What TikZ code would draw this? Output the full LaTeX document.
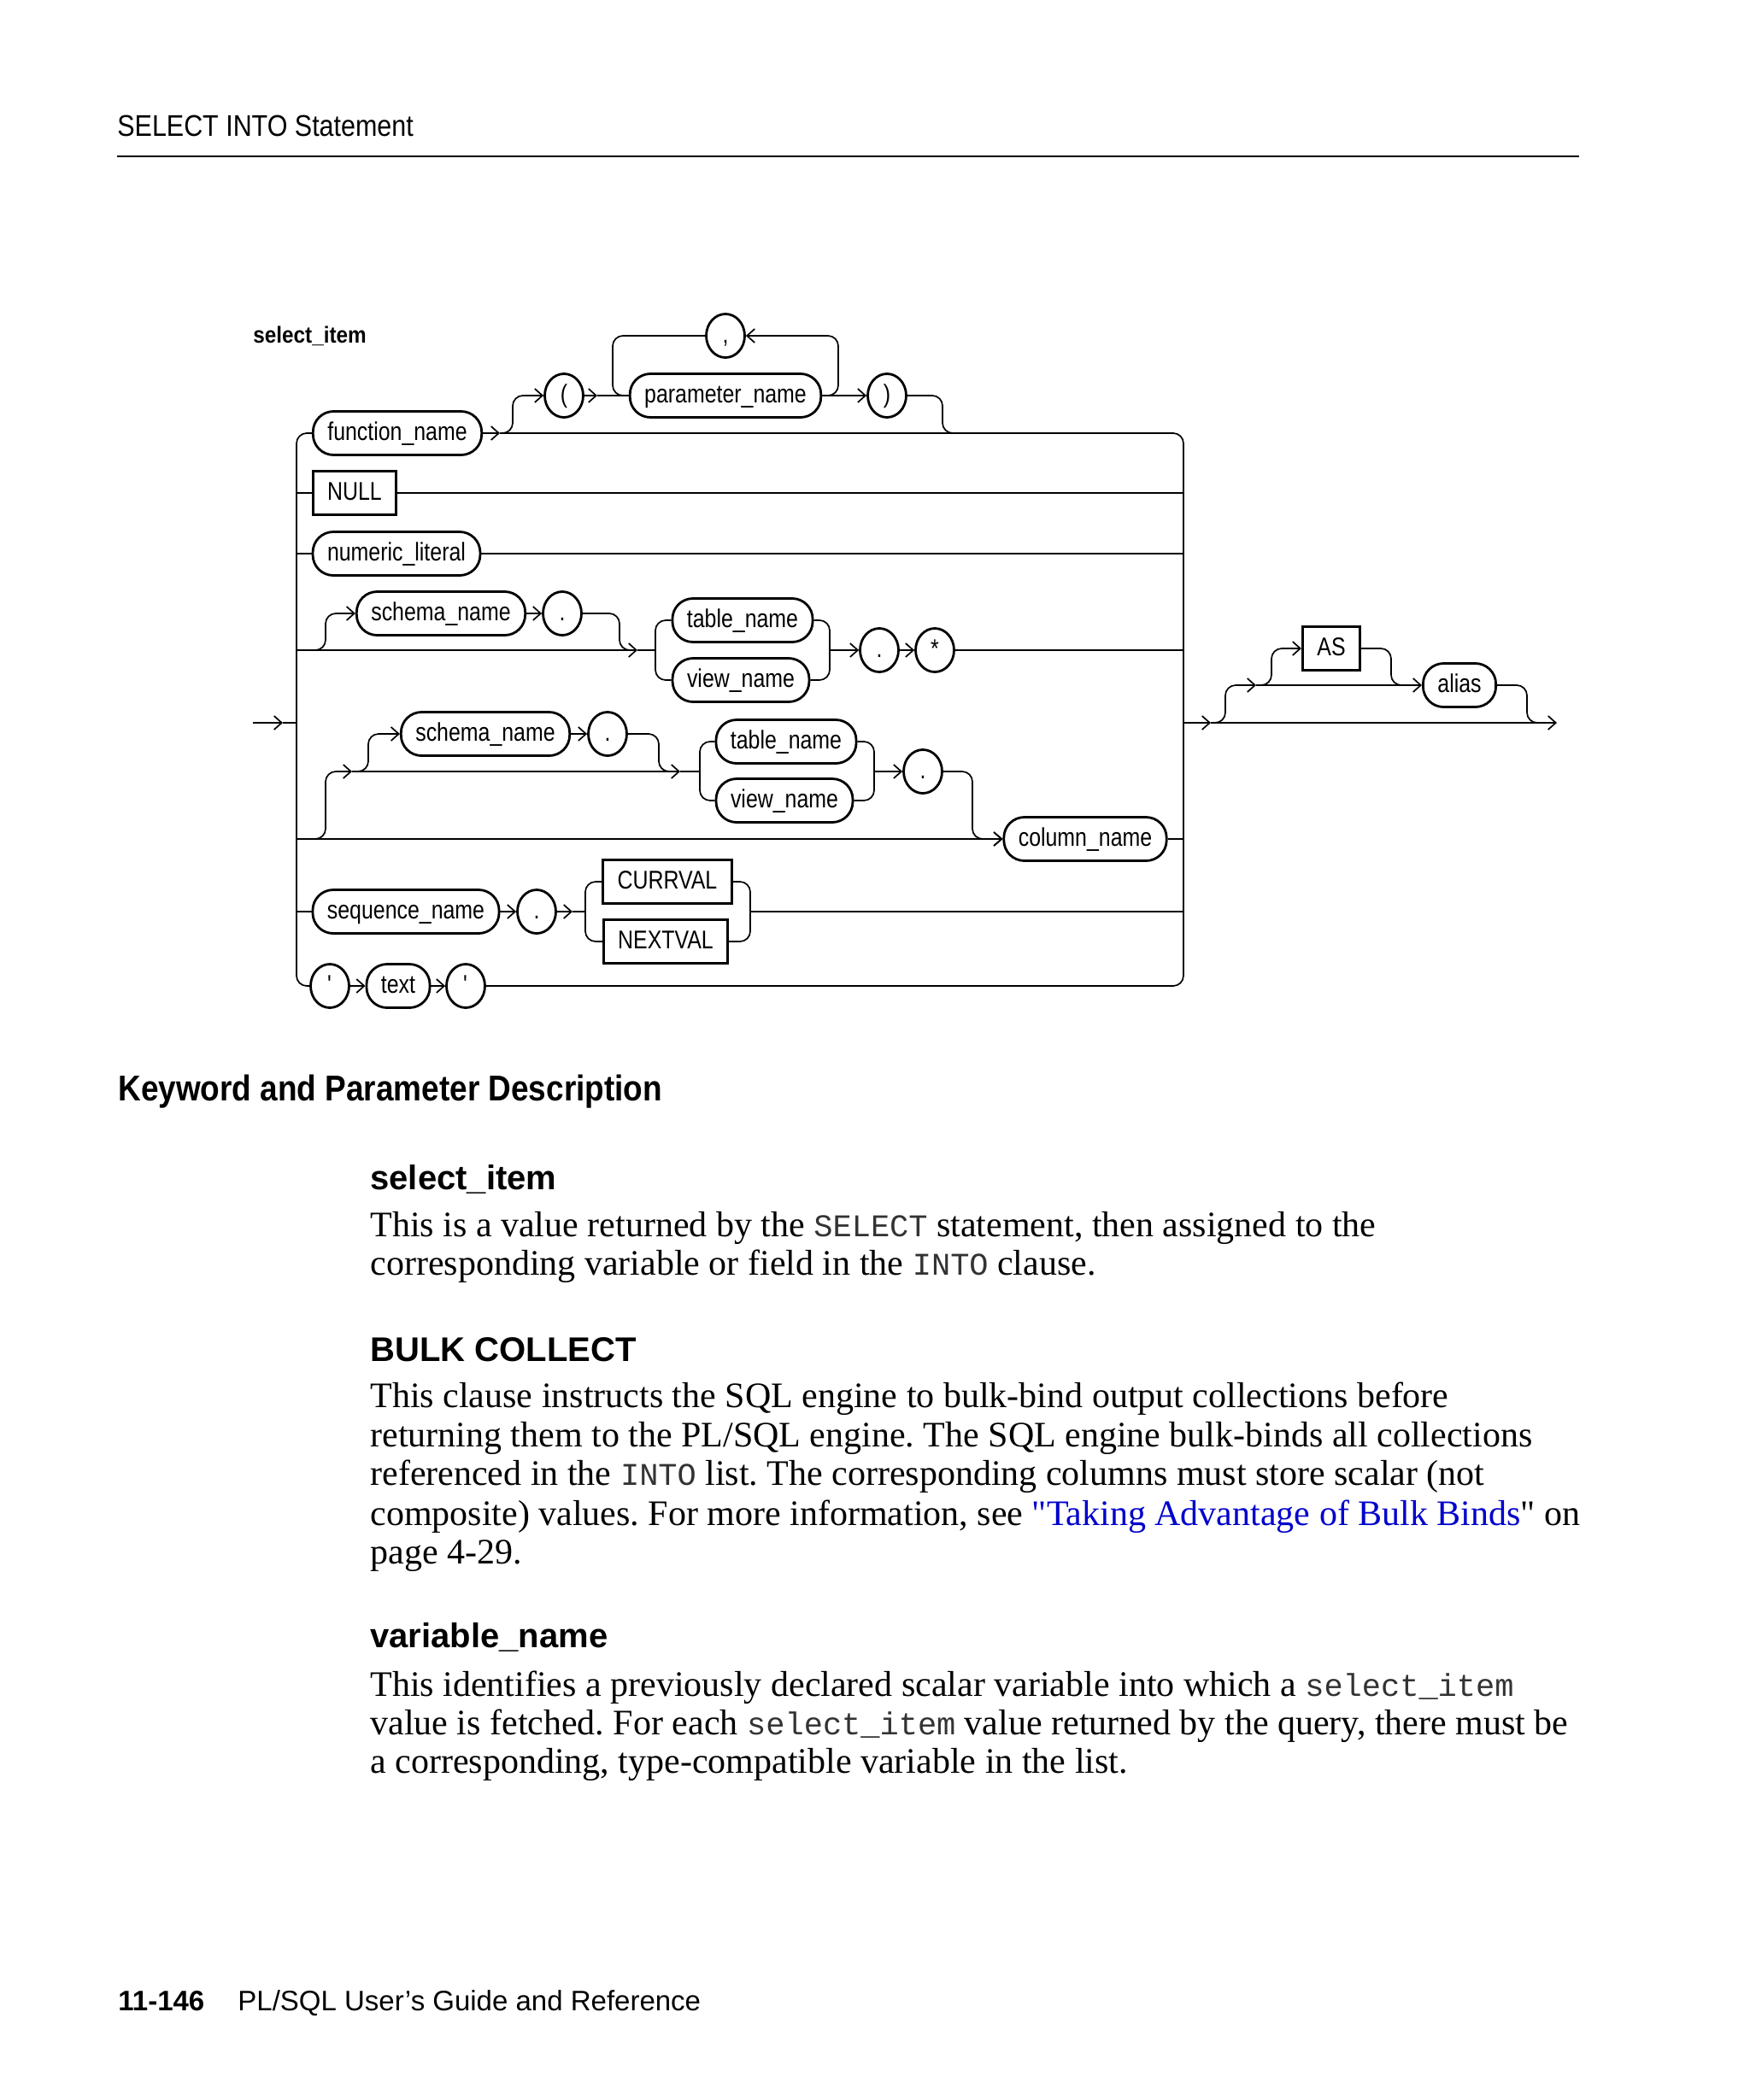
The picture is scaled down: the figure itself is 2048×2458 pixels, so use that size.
\documentclass[tikz,border=0pt]{standalone}
\usepackage{fontspec}
\setmainfont{Liberation Serif}
\setmonofont{Liberation Mono}
\newfontfamily\railfont{Liberation Sans}[FakeStretch=0.83]
\newfontfamily\labelfont{Liberation Sans}[FakeStretch=0.9]
\newfontfamily\headfont{Liberation Sans}[FakeStretch=0.87]
\newfontfamily\kwfont{Liberation Sans}[FakeStretch=0.88]
\newfontfamily\plainsans{Liberation Sans}
\usetikzlibrary{arrows.meta,positioning,shapes.geometric}
\usepackage{xcolor}
\definecolor{linkblue}{HTML}{0000CC}
\definecolor{codegray}{HTML}{333333}
\frenchspacing

\newcommand\railtext{\railfont\fontsize{15}{18}\selectfont}
\newcommand\bodytext{\rmfamily\fontsize{21}{22.5}\selectfont}
\newcommand\sqlcode[1]{{\ttfamily\fontsize{18.5}{22.5}\selectfont\color{codegray}#1}}

\tikzset{
    rail/.style={line width=0.85pt, rounded corners=6pt},
    railto/.style={rail, -{Straight Barb[length=4.5pt,width=8pt]}},
    txtline/.style={anchor=base west, inner sep=0pt}
}

\begin{document}
\begin{tikzpicture}[x=0.5pt, y=-0.5pt,
    nterm/.style={
        rectangle,
        rounded corners=12pt,
        draw,
        line width=1.4pt,
        minimum height=25.5pt,
        inner xsep=8.5pt,
        inner ysep=0pt,
        text height=11pt,
        text depth=3pt,
        font=\railtext
    },
    kword/.style={
        rectangle,
        draw,
        line width=1.4pt,
        minimum height=25.5pt,
        inner xsep=8.5pt,
        inner ysep=0pt,
        text height=11pt,
        text depth=3pt,
        font=\railtext
    },
    sym/.style={
        ellipse,
        draw,
        line width=1.4pt,
        minimum width=22.5pt,
        minimum height=25.5pt,
        inner sep=0pt,
        text height=11pt,
        text depth=3pt,
        font=\railtext
    }]

    \fill[white] (0,0) rectangle (2048,2458);
    \useasboundingbox (0,0) rectangle (2048,2458);

    %page head
    \node (page_head) [txtline, font=\headfont\fontsize{17.5}{20}\selectfont] at (137,159)
    {
        SELECT INTO Statement
    };
    \coordinate (rule_l) at (137,183);
    \coordinate (rule_r) at (1848,183);
    \draw[line width=1pt] (rule_l) -- (rule_r);

    %syntax diagram
    \node (diagram_title) [txtline, font=\labelfont\bfseries\fontsize{13.5}{16}\selectfont] at (296,401)
    {
        select\_item
    };

    \node (function_name) [nterm] at (465,507) {function\_name};
    \node (lparen) [sym] at (660,463) {(};
    \node (parameter_name) [nterm] at (849,463) {parameter\_name};
    \node (comma) [sym] at (849,393) {,};
    \node (rparen) [sym] at (1038,463) {)};

    \node (null_kw) [kword] at (415,577) {NULL};
    \node (numeric_literal) [nterm] at (464,648) {numeric\_literal};

    \node (schema_name_a) [nterm] at (516,718) {schema\_name};
    \node (dot_a) [sym] at (658,718) {.};
    \node (table_name_a) [nterm] at (869,726) {table\_name};
    \node (view_name_a) [nterm] at (867,796) {view\_name};
    \node (dot_b) [sym] at (1029,761) {.};
    \node (star) [sym] at (1094,761) {*};

    \node (schema_name_b) [nterm] at (568,859) {schema\_name};
    \node (dot_c) [sym] at (711,859) {.};
    \node (table_name_b) [nterm] at (920,868) {table\_name};
    \node (view_name_b) [nterm] at (918,937) {view\_name};
    \node (dot_d) [sym] at (1080,903) {.};
    \node (column_name) [nterm] at (1270,982) {column\_name};

    \node (sequence_name) [nterm] at (475,1067) {sequence\_name};
    \node (dot_e) [sym] at (628,1067) {.};
    \node (currval_kw) [kword] at (781,1032) {CURRVAL};
    \node (nextval_kw) [kword] at (779,1102) {NEXTVAL};

    \node (quote_a) [sym] at (386,1154) {\textquotesingle};
    \node (text_lit) [nterm] at (466,1154) {text};
    \node (quote_b) [sym] at (545,1154) {\textquotesingle};

    \node (as_kw) [kword] at (1558,759) {AS};
    \node (alias) [nterm] at (1708,802) {alias};

    %rail joints
    \coordinate (entry) at (296,846);
    \coordinate (entry_tip) at (331,846);
    \coordinate (left_in) at (347,846);
    \coordinate (fn_out) at (585,507);
    \coordinate (lparen_out) at (699,463);
    \coordinate (call_end) at (1118,507);
    \coordinate (left_2) at (347,577);
    \coordinate (right_2) at (1385,577);
    \coordinate (left_3) at (347,648);
    \coordinate (right_3) at (1385,648);
    \coordinate (left_4) at (347,761);
    \coordinate (fork_4) at (368,761);
    \coordinate (merge_4) at (738,761);
    \coordinate (tip_4) at (746,761);
    \coordinate (split_4) at (767,761);
    \coordinate (join_4) at (971,761);
    \coordinate (right_4) at (1385,761);
    \coordinate (left_6) at (347,982);
    \coordinate (fork_6) at (368,982);
    \coordinate (right_6) at (1385,982);
    \coordinate (tip_5) at (412,903);
    \coordinate (fork_5) at (418,903);
    \coordinate (merge_5) at (784,903);
    \coordinate (tip_5b) at (796,903);
    \coordinate (split_5) at (819,903);
    \coordinate (join_5) at (1023,903);
    \coordinate (left_7) at (347,1067);
    \coordinate (tip_7) at (670,1067);
    \coordinate (split_7) at (685,1067);
    \coordinate (join_7) at (878,1067);
    \coordinate (right_7) at (1385,1067);
    \coordinate (right_out) at (1385,846);
    \coordinate (exit_tip) at (1417,846);
    \coordinate (exit_fork) at (1420,846);
    \coordinate (alias_tip) at (1470,802);
    \coordinate (as_fork) at (1478,802);
    \coordinate (as_merge) at (1642,802);
    \coordinate (alias_merge) at (1800,846);
    \coordinate (exit) at (1822,846);

    %outer rails
    \draw[railto] (entry) -- (entry_tip);
    \draw[rail] (entry_tip) -- (left_in);
    \draw[rail] (function_name.west) -- (347,507) -- (347,1154) -- (quote_a.west);
    \draw[railto] (function_name.east) -- (fn_out);
    \draw[rail] (fn_out) -- (1385,507) -- (1385,1154) -- (quote_b.east);

    %function call
    \draw[railto] (fn_out) -- (600,507) -- (600,463) -- (lparen.west);
    \draw[railto] (lparen.east) -- (lparen_out);
    \draw[rail] (lparen_out) -- (parameter_name.west);
    \draw[railto] (parameter_name.east) -- (rparen.west);
    \draw[railto] (parameter_name.east) -- (981,463) -- (981,393) -- (comma.east);
    \draw[rail] (comma.west) -- (717,393) -- (717,463) -- (parameter_name.west);
    \draw[rail] (rparen.east) -- (1103,463) -- (1103,507) -- (call_end);

    \draw[rail] (left_2) -- (null_kw.west);
    \draw[rail] (null_kw.east) -- (right_2);
    \draw[rail] (left_3) -- (numeric_literal.west);
    \draw[rail] (numeric_literal.east) -- (right_3);

    %schema.table.*
    \draw[railto] (left_4) -- (tip_4);
    \draw[rail] (tip_4) -- (split_4);
    \draw[railto] (fork_4) -- (381,761) -- (381,718) -- (schema_name_a.west);
    \draw[railto] (schema_name_a.east) -- (dot_a.west);
    \draw[rail] (dot_a.east) -- (725,718) -- (725,761) -- (merge_4);
    \draw[rail] (table_name_a.west) -- (767,726) -- (767,796) -- (view_name_a.west);
    \draw[rail] (table_name_a.east) -- (971,726) -- (971,796) -- (view_name_a.east);
    \draw[railto] (join_4) -- (dot_b.west);
    \draw[railto] (dot_b.east) -- (star.west);
    \draw[rail] (star.east) -- (right_4);

    %schema.table.column
    \draw[railto] (left_6) -- (column_name.west);
    \draw[rail] (column_name.east) -- (right_6);
    \draw[railto] (fork_6) -- (381,982) -- (381,903) -- (tip_5);
    \draw[railto] (tip_5) -- (tip_5b);
    \draw[rail] (tip_5b) -- (split_5);
    \draw[railto] (fork_5) -- (431,903) -- (431,859) -- (schema_name_b.west);
    \draw[railto] (schema_name_b.east) -- (dot_c.west);
    \draw[rail] (dot_c.east) -- (771,859) -- (771,903) -- (merge_5);
    \draw[rail] (table_name_b.west) -- (819,868) -- (819,937) -- (view_name_b.west);
    \draw[rail] (table_name_b.east) -- (1023,868) -- (1023,937) -- (view_name_b.east);
    \draw[railto] (join_5) -- (dot_d.west);
    \draw[railto] (dot_d.east) -- (1138,903) -- (1138,982) -- (column_name.west);

    %sequence
    \draw[rail] (left_7) -- (sequence_name.west);
    \draw[railto] (sequence_name.east) -- (dot_e.west);
    \draw[railto] (dot_e.east) -- (tip_7);
    \draw[rail] (tip_7) -- (split_7);
    \draw[rail] (currval_kw.west) -- (685,1032) -- (685,1102) -- (nextval_kw.west);
    \draw[rail] (currval_kw.east) -- (878,1032) -- (878,1102) -- (nextval_kw.east);
    \draw[rail] (join_7) -- (right_7);

    \draw[railto] (quote_a.east) -- (text_lit.west);
    \draw[railto] (text_lit.east) -- (quote_b.west);

    %alias
    \draw[railto] (right_out) -- (exit_tip);
    \draw[railto] (exit_tip) -- (exit);
    \draw[railto] (exit_fork) -- (1434,846) -- (1434,802) -- (alias_tip);
    \draw[railto] (alias_tip) -- (alias.west);
    \draw[railto] (as_fork) -- (1488,802) -- (1488,759) -- (as_kw.west);
    \draw[rail] (as_kw.east) -- (1628,759) -- (1628,802) -- (as_merge);
    \draw[rail] (alias.east) -- (1787,802) -- (1787,846) -- (alias_merge);

    %descriptions
    \node (kw_head) [txtline, font=\kwfont\bfseries\fontsize{21}{24}\selectfont] at (138,1288)
    {
        Keyword and Parameter Description
    };

    \node (select_item_head) [txtline, font=\plainsans\bfseries\fontsize{20}{24}\selectfont] at (433,1392)
    {
        select\_item
    };
    \node (select_item_a) [txtline, font=\bodytext] at (433,1447)
    {This is a value returned by the \sqlcode{SELECT} statement, then assigned to the};
    \node (select_item_b) [txtline, font=\bodytext] at (433,1492)
    {corresponding variable or field in the \sqlcode{INTO} clause.};

    \node (bulk_head) [txtline, font=\plainsans\bfseries\fontsize{20}{24}\selectfont] at (433,1593)
    {
        BULK COLLECT
    };
    \node (bulk_a) [txtline, font=\bodytext] at (433,1647)
    {This clause instructs the SQL engine to bulk-bind output collections before};
    \node (bulk_b) [txtline, font=\bodytext] at (433,1693)
    {returning them to the PL/SQL engine. The SQL engine bulk-binds all collections};
    \node (bulk_c) [txtline, font=\bodytext] at (433,1738)
    {referenced in the \sqlcode{INTO} list. The corresponding columns must store scalar (not};
    \node (bulk_d) [txtline, font=\bodytext] at (433,1785)
    {composite) values. For more information, see {\color{linkblue}\textquotedbl Taking Advantage of Bulk Binds}\textquotedbl{} on};
    \node (bulk_e) [txtline, font=\bodytext] at (433,1830)
    {page 4-29.};

    \node (variable_name_head) [txtline, font=\plainsans\bfseries\fontsize{20}{24}\selectfont] at (433,1928)
    {
        variable\_name
    };
    \node (variable_name_a) [txtline, font=\bodytext] at (433,1985)
    {This identifies a previously declared scalar variable into which a \sqlcode{select\_item}};
    \node (variable_name_b) [txtline, font=\bodytext] at (433,2030)
    {value is fetched. For each \sqlcode{select\_item} value returned by the query, there must be};
    \node (variable_name_c) [txtline, font=\bodytext] at (433,2075)
    {a corresponding, type-compatible variable in the list.};

    %page foot
    \node (foot_page) [txtline, font=\plainsans\bfseries\fontsize{16.5}{19}\selectfont] at (138,2353)
    {
        11-146
    };
    \node (foot_book) [txtline, font=\plainsans\fontsize{16.5}{19}\selectfont] at (278,2353)
    {
        PL/SQL User’s Guide and Reference
    };

\end{tikzpicture}
\end{document}
